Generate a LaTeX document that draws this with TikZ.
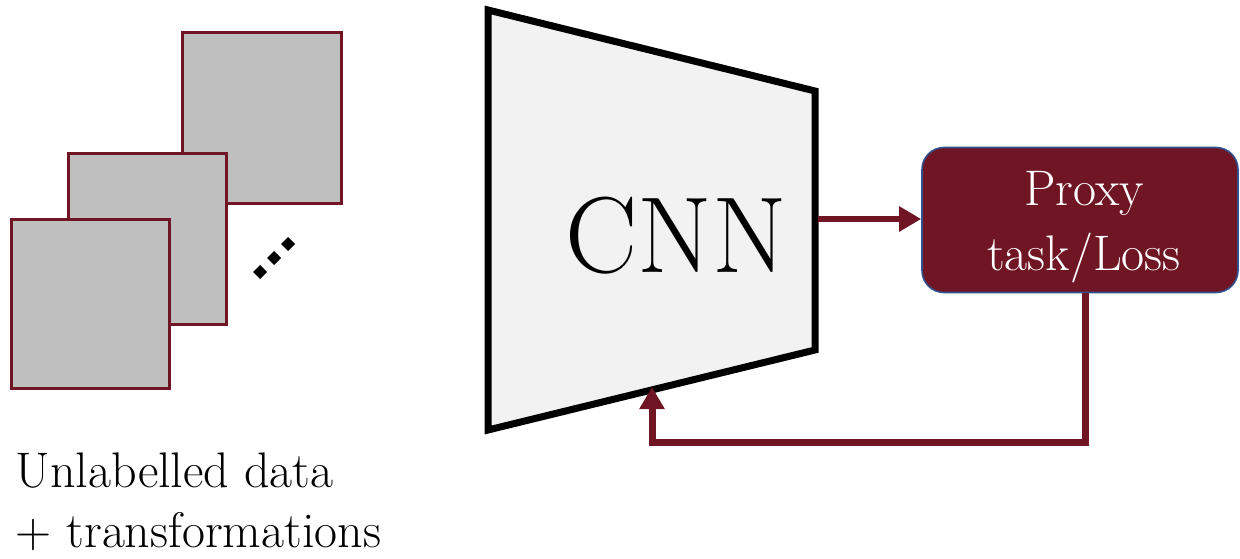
\documentclass[tikz,border=0pt]{standalone}
\usepackage{fontspec}
\setmainfont{Latin Modern Roman}
\usetikzlibrary{arrows.meta}
\definecolor{maroon}{RGB}{111,21,36}
\definecolor{imgray}{RGB}{191,191,191}
\definecolor{cnnfill}{RGB}{242,242,242}
\definecolor{boxedge}{RGB}{47,82,143}
\tikzset{
  img/.style={fill=imgray, draw=maroon, line width=3pt},
  conn/.style={draw=maroon, line width=6.5pt, -{Triangle[length=22pt,width=24pt]}},
  lossbox/.style={rectangle, rounded corners=22pt, fill=maroon, draw=boxedge, line width=1.6pt,
    minimum width=316pt, minimum height=145pt, align=center, text=white,
    font=\fontsize{50}{65}\selectfont},
  label/.style={anchor=base west, font=\fontsize{50}{60}\selectfont},
}
\begin{document}
\begin{tikzpicture}[x=1pt,y=-1pt]
\useasboundingbox (0,0) rectangle (1240,559);
% images
\draw[img] (182,33) rectangle (341,203);
\draw[img] (68,154) rectangle (226,324);
\draw[img] (11,219) rectangle (169,388);
% dots
\foreach \cx/\cy in {260/272, 274/258, 288/244}
  \fill (\cx-7,\cy) -- (\cx,\cy-7) -- (\cx+7,\cy) -- (\cx,\cy+7) -- cycle;
% CNN trapezoid
\draw[fill=cnnfill, line width=7pt, line join=miter] (488,10) -- (815,91) -- (815,350) -- (488,430) -- cycle;
\node[anchor=base, font=\fontsize{108}{120}\selectfont] (cnn) at (676,272) {CNN};
\coordinate (cnnR) at (818,219);
\coordinate (cnnB) at (652,387);
% loss box
\node[lossbox] (loss) at (1080,220) {};
\node[anchor=base, text=white, font=\fontsize{50}{60}\selectfont] (t1) at (1084,205) {Proxy};
\node[anchor=base, text=white, font=\fontsize{50}{60}\selectfont] (t2) at (1084,270) {task/Loss};
\coordinate (fb) at (652,442);
\draw[conn] (cnnR) -- (loss.west |- cnnR);
\draw[conn, line width=7pt, line join=miter] ([xshift=5pt]loss.south) |- (fb) -- (cnnB);
% caption
\node[label] (lab1) at (12,487) {Unlabelled data};
\node[label] (lab2) at (12,547) {+ transformations};
\end{tikzpicture}
\end{document}
